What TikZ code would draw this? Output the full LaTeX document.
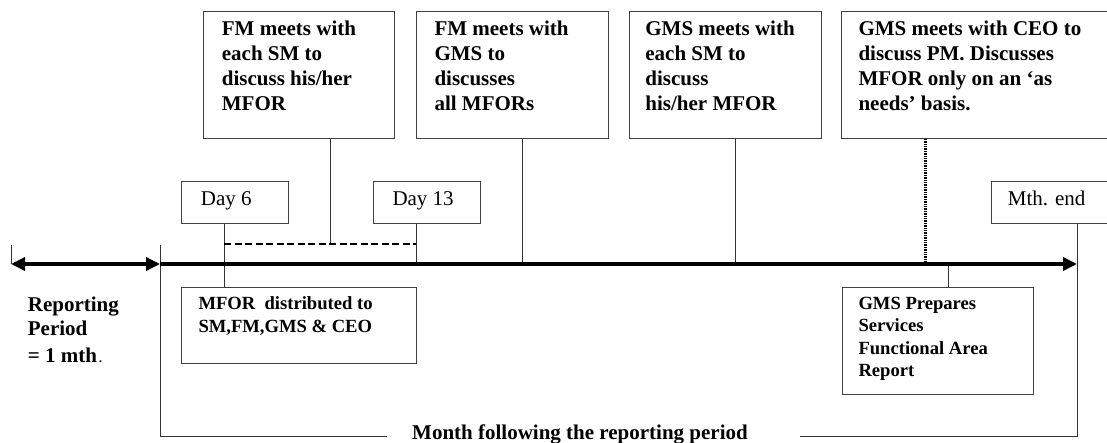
\documentclass[tikz,border=0pt]{standalone}
\usepackage{fontspec}
\setmainfont{Liberation Serif}
\usetikzlibrary{arrows.meta}

% several lines of text whose first baseline is the node's baseline
\newcommand{\txtlines}[1]{\begin{tabular}[t]{@{}l@{}}#1\end{tabular}}

\begin{document}
\begin{tikzpicture}[x=1pt,y=-1pt,
  boxed/.style={draw=black!75,line width=1.1pt,rectangle,inner sep=0pt,anchor=north west},
  bigtxt/.style={inner sep=0pt,anchor=base west,font=\bfseries\fontsize{21}{25}\selectfont},
  smalltxt/.style={inner sep=0pt,anchor=base west,font=\bfseries\fontsize{18.6}{22.5}\selectfont},
  daytxt/.style={inner sep=0pt,anchor=base west,font=\fontsize{21}{25}\selectfont},
  axis/.style={line width=3.4pt,black},
  tick/.style={line width=1pt,black!80},
  dashline/.style={line width=2.9pt,black,dash pattern=on 7pt off 3.5pt},
  dotline/.style={line width=2.6pt,black,dash pattern=on 1.4pt off 1pt},
  tip/.style={arrows={#1}},
]
\useasboundingbox (0,0) rectangle (1107,442);

% ---------- time line ----------
\coordinate (L)  at (11,264);
\coordinate (S)  at (160,264);
\coordinate (E)  at (1077,264);
\coordinate (Ltop) at (11,245);
\coordinate (Stop) at (160,245);
\coordinate (Sbot) at (160,436);
\coordinate (Ebot) at (1077,436);
\coordinate (brL) at (387,436);
\coordinate (brR) at (800,436);

% ---------- upper boxes ----------
\node[boxed,minimum width=191.3pt,minimum height=127pt] (b1) at (202.7,10.7) {};
\node[boxed,minimum width=192.2pt,minimum height=127pt] (b2) at (415.5,10.7) {};
\node[boxed,minimum width=192.2pt,minimum height=127pt] (b3) at (628.5,10.7) {};
\node[boxed,minimum width=280pt,minimum height=127pt] (b4) at (841.3,10.7) {};

\node[bigtxt] (t1) at (221.7,35) {\txtlines{FM meets with\\each SM to\\discuss his/her\\MFOR}};
\node[bigtxt] (t2) at (434.3,35) {\txtlines{FM meets with\\GMS to\\discusses\\all MFORs}};
\node[bigtxt] (t3) at (645.2,35) {\txtlines{GMS meets with\\each SM to\\discuss\\his/her MFOR}};
\node[bigtxt] (t4) at (858.3,35) {\txtlines{GMS meets with CEO to\\discuss PM. Discusses\\MFOR only on an ‘as\\needs’ basis.}};

% ---------- day markers ----------
\node[boxed,minimum width=107pt,minimum height=42.3pt] (d6) at (181,181) {};
\node[boxed,minimum width=107.3pt,minimum height=42.3pt] (d13) at (372.7,181) {};
\node[boxed,minimum width=130pt,minimum height=42.3pt] (me) at (990.7,181) {};
\node[daytxt] (d6t) at (200.7,205) {Day 6};
\node[daytxt] (d13t) at (392.3,205) {Day 13};
\node[daytxt] (met) at (1007.7,205) {Mth. end};

% ---------- lower boxes ----------
\node[boxed,minimum width=234.7pt,minimum height=76pt] (mfor) at (181,287.3) {};
\node[boxed,minimum width=191.6pt,minimum height=106.7pt] (gp) at (841.7,287.3) {};
\node[smalltxt,font=\bfseries\fontsize{18.6}{23.5}\selectfont] (mfort) at (198.3,309) {\txtlines{MFOR\ \ distributed to\\SM,FM,GMS \& CEO}};
\node[smalltxt] (gpt) at (858.3,309) {\txtlines{GMS Prepares\\Services\\Functional Area\\Report}};

% ---------- left label and bottom bracket ----------
\node[bigtxt,font=\bfseries\fontsize{21}{23.3}\selectfont] (rp) at (27.7,311.7) {\txtlines{Reporting\\Period\\[4.4pt]= 1 mth{\fontsize{12}{12}\selectfont\,.}}};
\node[bigtxt] (month) at (412,439) {Month following the reporting period};

\draw[tick] (Ltop) -- (L);
\draw[tick] (Stop) -- (Sbot) -- (brL);
\draw[tick] (brR) -- (Ebot) -- (me.south -| Ebot);

% ---------- connectors ----------
\coordinate (x6)  at (224,244);
\coordinate (x13) at (416,244);
\coordinate (x1)  at (330.7,244);
\coordinate (x2)  at (522.3,264);
\coordinate (x3)  at (735.4,264);
\coordinate (x4)  at (925.5,264);
\coordinate (xg)  at (948.3,264);

\draw[tick] (d6.south -| x6) -- (mfor.north -| x6);
\draw[tick] (d13.south -| x13) -- (S -| x13);
\draw[tick] (b1.south -| x1) -- (x1);
\draw[tick] (b2.south -| x2) -- (x2);
\draw[tick] (b3.south -| x3) -- (x3);
\draw[tick] (xg) -- (gp.north -| xg);
\draw[dotline] (b4.south -| x4) -- (x4);
\draw[dashline] (x6) -- (x13);

\draw[axis,tip={Triangle[length=14pt,width=13pt]-Triangle[length=14pt,width=13pt]}] (L) -- (S);
\draw[axis,tip={-Triangle[length=14pt,width=13pt]}] (S) -- (E);
\end{tikzpicture}
\end{document}
